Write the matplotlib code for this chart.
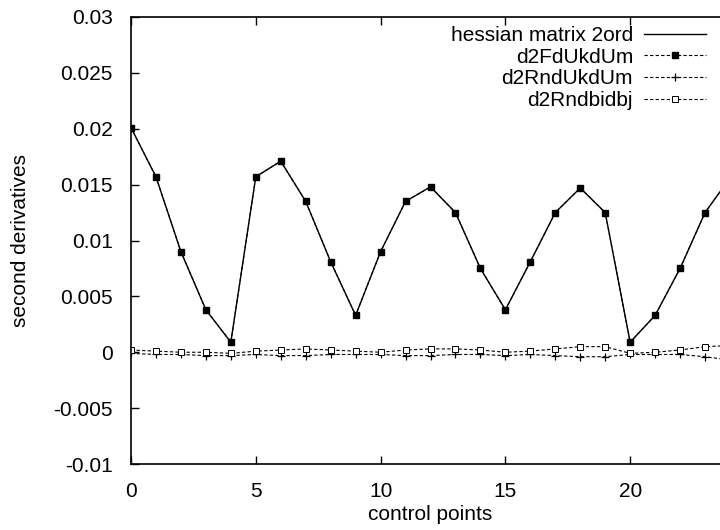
import matplotlib
matplotlib.use("Agg")
import matplotlib.pyplot as plt
import numpy as np

plt.rcParams['font.family'] = ['Liberation Sans', 'DejaVu Sans']

# control point index
points = np.arange(0, 25)

# hessian matrix (and d2FdUkdUm, which lies on top of it)
hessian = [0.0201, 0.0157, 0.0090, 0.0038, 0.0009, 0.0157, 0.0171, 0.0135, 0.0081,
           0.0033, 0.0090, 0.0135, 0.0148, 0.0125, 0.0075, 0.0038, 0.0081, 0.0125,
           0.0147, 0.0125, 0.0009, 0.0033, 0.0075, 0.0125, 0.0156]
d2FdUkdUm = hessian
d2RndUkdUm = [-0.0001, -0.0002, -0.0002, -0.0003, -0.0003, -0.0002, -0.0003, -0.0003,
              -0.0002, -0.0002, -0.0002, -0.0003, -0.0003, -0.0002, -0.0002, -0.0003,
              -0.0002, -0.0003, -0.0004, -0.0004, -0.0002, -0.0002, -0.0002, -0.0004,
              -0.0007]
d2Rndbidbj = [0.0002, 0.0001, 0.0000, 0.0000, -0.0001, 0.0001, 0.0002, 0.0003, 0.0002,
              0.0001, 0.0000, 0.0002, 0.0003, 0.0003, 0.0002, 0.0000, 0.0001, 0.0003,
              0.0005, 0.0005, -0.0001, 0.0000, 0.0002, 0.0005, 0.0006]

fig = plt.figure(figsize=(7.2, 5.3), dpi=100)
# the original picture is cut off on the right, so the axes run past the figure edge
ax = fig.add_axes([131/720, 66/530, 599/720, 447/530])

dash = (0, (3, 2))
ax.plot(points, hessian, color='black', lw=1.0, label='hessian matrix 2ord')
ax.plot(points, d2FdUkdUm, color='black', lw=0.8, ls=dash, marker='s', ms=5,
        mfc='black', mec='black', label='d2FdUkdUm')
ax.plot(points, d2RndUkdUm, color='black', lw=0.8, ls=dash, marker='+', ms=6,
        mew=0.9, label='d2RndUkdUm')
ax.plot(points, d2Rndbidbj, color='black', lw=0.8, ls=dash, marker='s', ms=4.6,
        mfc='white', mec='black', mew=0.7, label='d2Rndbidbj')

ax.set_xlim(0, 24)
ax.set_ylim(-0.01, 0.03)
ax.set_xticks([0, 5, 10, 15, 20])
ax.set_yticks(np.arange(-0.01, 0.0301, 0.005))
ax.set_yticklabels(['-0.01', '-0.005', '0', '0.005', '0.01', '0.015', '0.02', '0.025', '0.03'])
ax.tick_params(direction='in', top=True, right=True, length=6, width=1,
               labelsize=15, pad=13)
ax.tick_params(axis='y', pad=13)
for s in ax.spines.values():
    s.set_linewidth(1.2)

ax.set_xlabel('control points', fontsize=15, labelpad=3)
ax.set_ylabel('second derivatives', fontsize=15, labelpad=17)

fig.legend(loc='upper right', bbox_to_anchor=(706/720, 1 - 26/530), frameon=False,
           markerfirst=False, fontsize=15, handlelength=3.0, handletextpad=0.5,
           labelspacing=0.13, borderaxespad=0, borderpad=0)

fig.savefig('out.png', dpi=100)
